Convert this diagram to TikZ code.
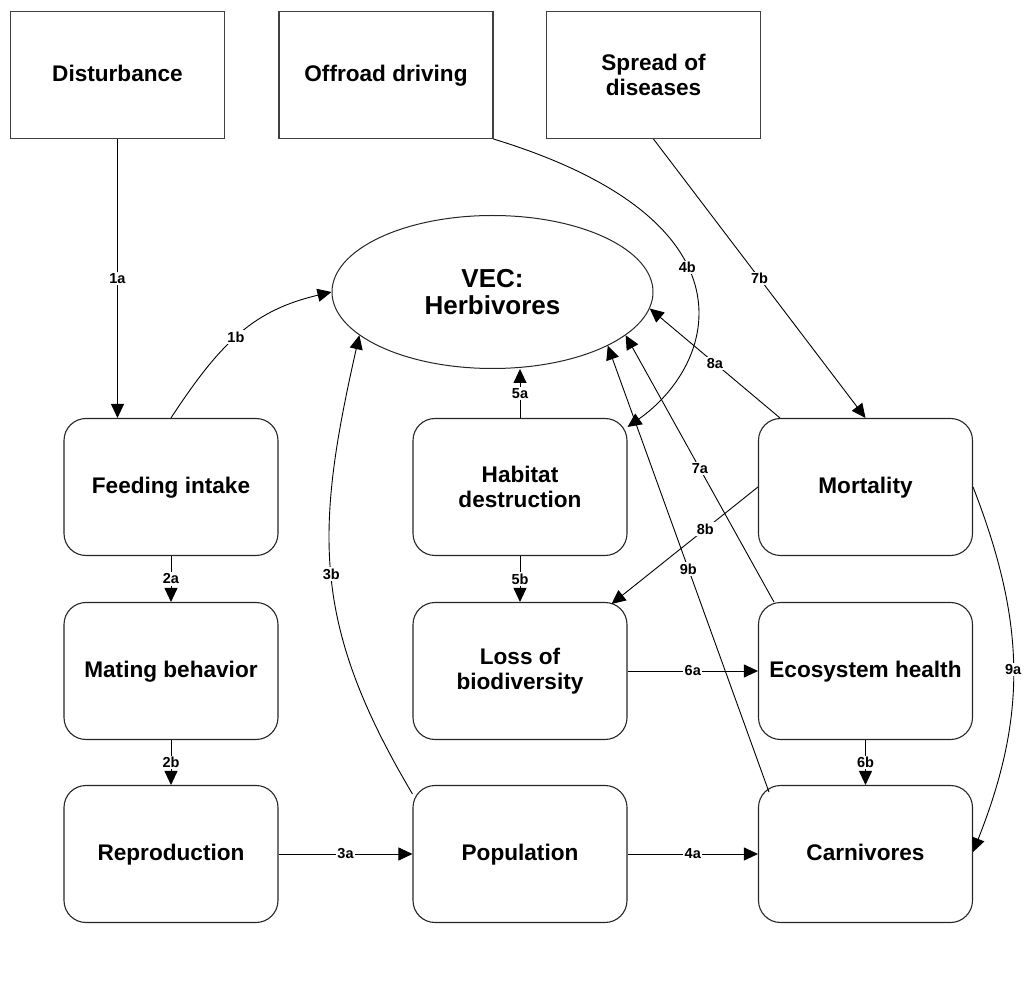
\documentclass[tikz,border=0pt]{standalone}
\usepackage{fontspec}
\setmainfont{Liberation Sans}
\usetikzlibrary{arrows.meta,shapes.geometric}
\newcommand{\diagboxfont}{\fontsize{22.6}{25}\selectfont\bfseries}
\newcommand{\diagvecfont}{\fontsize{26}{27}\selectfont\bfseries}
\newcommand{\diaglblfont}{\fontsize{14.5}{15}\selectfont\bfseries}
\begin{document}
\begin{tikzpicture}[x=1pt,y=1pt,
  box/.style={draw=black!85, line width=1.1pt, rounded corners=22pt,
    minimum width=214pt, minimum height=137pt, align=center, font=\diagboxfont},
  topbox/.style={draw=black!75, line width=1.1pt,
    minimum width=214pt, minimum height=127pt, align=center, font=\diagboxfont},
  oneline/.style={text height=17pt, text depth=4.4pt},
  vecnode/.style={ellipse, draw=black!85, line width=1pt, minimum width=321pt,
    minimum height=153pt, inner sep=0pt, align=center, font=\diagvecfont},
  arr/.style={-{Triangle[length=14pt,width=13pt]}, line width=0.9pt},
  lbl/.style={fill=white, inner sep=1.5pt, font=\diaglblfont}]
\useasboundingbox (0,0) rectangle (1029,-981);

% pressures
\node[topbox,oneline] (dist) at (117.5,-75) {Disturbance};
\node[topbox,oneline] (offroad) at (386,-75) {Offroad driving};
\node[topbox] (spread) at (653.5,-75) {Spread of\\diseases};

% valued ecosystem component
\node[vecnode] (vec) at (492.5,-292) {VEC:\\Herbivores};

% effects
\node[box,oneline] (feed) at (171,-487) {Feeding intake};
\node[box,oneline] (mating) at (171,-671) {Mating behavior};
\node[box,oneline] (repro) at (171,-854) {Reproduction};
\node[box] (habitat) at (520,-487) {Habitat\\destruction};
\node[box] (loss) at (520,-671) {Loss of\\biodiversity};
\node[box,oneline] (pop) at (520,-854) {Population};
\node[box,oneline] (mort) at (865.5,-487) {Mortality};
\node[box,oneline] (eco) at (865.5,-671) {Ecosystem health};
\node[box,oneline] (carn) at (865.5,-854) {Carnivores};

% pathways
\draw[arr] (dist.south) -- node[lbl]{1a} (dist.south |- feed.north);
\draw[arr] (feed.north) .. controls (222,-340) and (255,-310) .. node[lbl,pos=0.46]{1b} (vec.west);
\draw[arr] (feed.south) -- node[lbl]{2a} (mating.north);
\draw[arr] (mating.south) -- node[lbl]{2b} (repro.north);
\draw[arr] (repro.east) -- node[lbl]{3a} (pop.west);
\draw[arr] ([yshift=-9pt]pop.north west) .. controls (311,-623) and (315,-531) .. node[lbl]{3b} (vec.198);
\draw[arr] (pop.east) -- node[lbl]{4a} (carn.west);
\draw[arr] (offroad.south east) .. controls (762,-221) and (717,-364) .. node[lbl,pos=0.43]{4b} ([yshift=-9pt]habitat.north east);
\draw[arr] (habitat.north) -- node[lbl]{5a} (habitat.north |- vec.south);
\draw[arr] (habitat.south) -- node[lbl]{5b} (loss.north);
\draw[arr] (loss.east) -- node[lbl]{6a} (eco.west);
\draw[arr] (eco.south) -- node[lbl]{6b} (carn.north);
\draw[arr] ([xshift=16pt]eco.north west) -- node[lbl]{7a} (vec.342);
\draw[arr] (spread.south) -- node[lbl]{7b} (mort.north);
\draw[arr] ([xshift=22pt]mort.north west) -- node[lbl]{8a} (vec.-6);
\draw[arr] (mort.west) -- node[lbl,pos=0.36]{8b} ([xshift=-16pt,yshift=-2pt]loss.north east);
\draw[arr] (mort.east) .. controls (1026,-623) and (1027,-716) .. node[lbl]{9a} ([yshift=2pt]carn.east);
\draw[arr] ([xshift=11pt,yshift=-7pt]carn.north west) -- node[lbl]{9b} (vec.-25);
\end{tikzpicture}
\end{document}
